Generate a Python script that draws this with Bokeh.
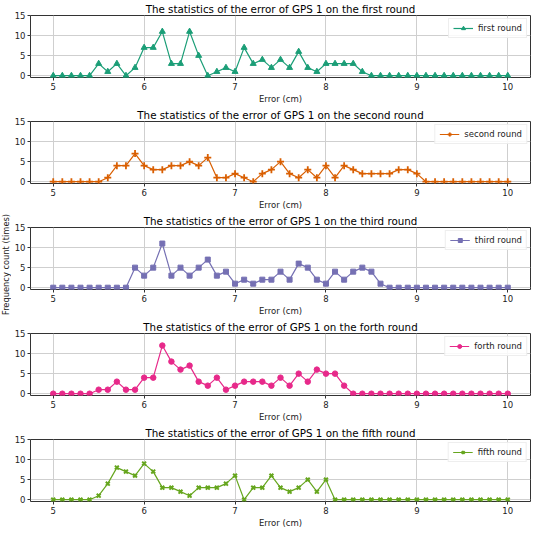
import math
from bokeh.plotting import figure
from bokeh.layouts import column, row
from bokeh.models import Range1d, FixedTicker
from bokeh.core.properties import value
from bokeh.embed import file_html
from bokeh.resources import INLINE

errors = [5.0, 5.1, 5.2, 5.3, 5.4, 5.5, 5.6, 5.7, 5.8, 5.9,
          6.0, 6.1, 6.2, 6.3, 6.4, 6.5, 6.6, 6.7, 6.8, 6.9,
          7.0, 7.1, 7.2, 7.3, 7.4, 7.5, 7.6, 7.7, 7.8, 7.9,
          8.0, 8.1, 8.2, 8.3, 8.4, 8.5, 8.6, 8.7, 8.8, 8.9,
          9.0, 9.1, 9.2, 9.3, 9.4, 9.5, 9.6, 9.7, 9.8, 9.9, 10.0]

first_round = [0, 0, 0, 0, 0, 3, 1, 3, 0, 2,
               7, 7, 11, 3, 3, 11, 5, 0, 1, 2,
               1, 7, 3, 4, 2, 4, 2, 6, 2, 1,
               3, 3, 3, 3, 1, 0, 0, 0, 0, 0,
               0, 0, 0, 0, 0, 0, 0, 0, 0, 0, 0]
second_round = [0, 0, 0, 0, 0, 0, 1, 4, 4, 7,
                4, 3, 3, 4, 4, 5, 4, 6, 1, 1,
                2, 1, 0, 2, 3, 5, 2, 1, 3, 1,
                4, 1, 4, 3, 2, 2, 2, 2, 3, 3,
                2, 0, 0, 0, 0, 0, 0, 0, 0, 0, 0]
third_round = [0, 0, 0, 0, 0, 0, 0, 0, 0, 5,
               3, 5, 11, 3, 5, 3, 5, 7, 3, 4,
               1, 2, 1, 2, 2, 4, 2, 6, 5, 2,
               1, 4, 2, 4, 5, 4, 1, 0, 0, 0,
               0, 0, 0, 0, 0, 0, 0, 0, 0, 0, 0]
forth_round = [0, 0, 0, 0, 0, 1, 1, 3, 1, 1,
               4, 4, 12, 8, 6, 7, 3, 2, 4, 1,
               2, 3, 3, 3, 2, 4, 2, 5, 3, 6,
               5, 5, 2, 0, 0, 0, 0, 0, 0, 0,
               0, 0, 0, 0, 0, 0, 0, 0, 0, 0, 0]
fifth_round = [0, 0, 0, 0, 0, 1, 4, 8, 7, 6,
               9, 7, 3, 3, 2, 1, 3, 3, 3, 4,
               6, 0, 3, 3, 6, 3, 2, 3, 5, 2,
               5, 0, 0, 0, 0, 0, 0, 0, 0, 0,
               0, 0, 0, 0, 0, 0, 0, 0, 0, 0, 0]

round_names = ["first", "second", "third", "forth", "fifth"]
series = [first_round, second_round, third_round, forth_round, fifth_round]
colors = ["#1b9e77", "#d95f02", "#7570b3", "#e7298a", "#66a61e"]
markers = ["triangle", "cross", "square", "circle", "x"]
marker_sizes = [6, 7, 5, 5.5, 5.5]
marker_lw = [1, 1.8, 1, 1, 2]

x_ticks = [5, 6, 7, 8, 9, 10]
y_ticks = [0, 5, 10, 15]
y_label = "Frequency count (times)"

FONT = "DejaVu Sans"
FIG_H = 106
LABEL_W = 11
TOTAL_H = FIG_H * 5

figs = []
for i, (name, ys) in enumerate(zip(round_names, series)):
    p = figure(width=534 - LABEL_W, height=FIG_H, output_backend="svg", toolbar_location=None,
               x_range=Range1d(4.75, 10.25), y_range=Range1d(-0.45, 15.0),
               min_border_left=16, min_border_right=4, min_border_top=0, min_border_bottom=0)
    p.title.text = "The statistics of the error of GPS 1 on the %s round" % name
    p.title.align = "center"
    p.title.text_font = FONT
    p.title.text_font_size = "10.3px"
    p.title.text_font_style = "normal"
    p.title.text_color = "#000000"
    p.title.offset = 0
    p.title.standoff = 1

    p.line(errors, ys, color=colors[i], line_width=1.2, legend_label="%s round" % name)
    p.scatter(errors, ys, marker=markers[i], size=marker_sizes[i], color=colors[i],
              line_width=marker_lw[i], legend_label="%s round" % name)

    p.xaxis.ticker = FixedTicker(ticks=x_ticks)
    p.yaxis.ticker = FixedTicker(ticks=y_ticks)
    p.xaxis.axis_label = "Error (cm)"
    for ax in (p.xaxis[0], p.yaxis[0]):
        ax.major_label_text_font = FONT
        ax.major_label_text_font_size = "8.5px"
        ax.major_label_text_color = "#222222"
        ax.axis_label_text_font = FONT
        ax.axis_label_text_font_size = "8.5px"
        ax.axis_label_text_font_style = "normal"
        ax.axis_label_text_color = "#222222"
        ax.major_tick_out = 3
        ax.major_tick_in = 0
        ax.minor_tick_out = 0
        ax.minor_tick_in = 0
        ax.axis_line_color = None
        ax.major_tick_line_color = "#333333"
        ax.major_label_standoff = 2
    p.xaxis.axis_label_standoff = 1
    p.outline_line_color = "#333333"
    p.outline_line_width = 1
    p.xgrid.grid_line_color = "#cfcfcf"
    p.ygrid.grid_line_color = "#cfcfcf"

    p.legend.location = "top_right"
    p.legend.label_text_font = FONT
    p.legend.label_text_font_size = "8.5px"
    p.legend.label_text_color = "#222222"
    p.legend.label_height = 10
    p.legend.glyph_height = 10
    p.legend.glyph_width = 20
    p.legend.padding = 4
    p.legend.margin = 3
    p.legend.spacing = 0
    p.legend.border_line_color = "#dddddd"
    p.legend.background_fill_alpha = 0.85
    figs.append(p)

# narrow strip carrying the shared y-axis title (placed beside the third panel)
lab = figure(width=LABEL_W, height=TOTAL_H, output_backend="svg", toolbar_location=None,
             x_range=Range1d(0, 1), y_range=Range1d(0, TOTAL_H),
             min_border=0, outline_line_color=None)
lab.axis.visible = False
lab.grid.visible = False
lab.text(x=[0.5], y=[TOTAL_H - 2.5 * FIG_H + 1], text=[y_label], angle=math.pi / 2,
         text_align="center", text_baseline="middle",
         text_font=value(FONT), text_font_size="8.3px", text_color="#222222")

layout = row(lab, column(*figs, spacing=0), spacing=0)
open("out.html", "w").write(file_html(layout, INLINE))
